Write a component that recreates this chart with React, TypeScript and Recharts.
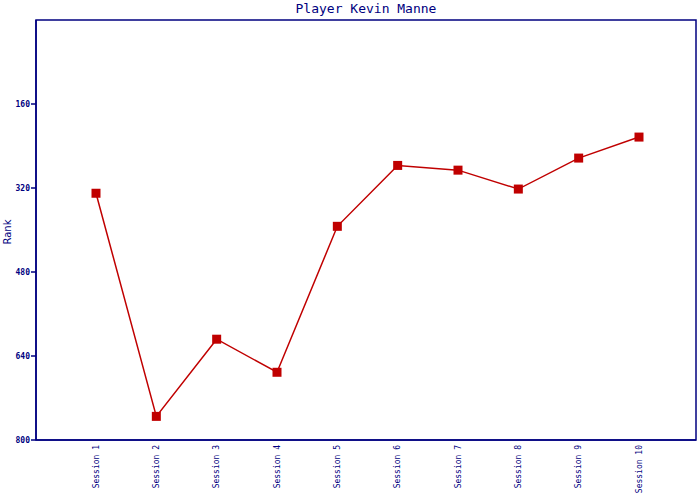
import React from "react";
import { LineChart, Line, XAxis, YAxis, ReferenceArea } from "recharts";

const sessions = ["Session 1", "Session 2", "Session 3", "Session 4", "Session 5", "Session 6", "Session 7", "Session 8", "Session 9", "Session 10"];
const ranks = [330, 755, 608, 671, 393, 277, 286, 322, 263, 223];
const yTicks = [160, 320, 480, 640, 800];
const title = "Player Kevin Manne";
const yLabel = "Rank";

const data = sessions.map((s, i) => ({ session: s, rank: ranks[i] }));

const NAVY = "#000080";
const RED = "#C00000";
const MONO = "'DejaVu Sans Mono', 'Liberation Mono', monospace";

const XTick = (props: any) => {
  const { x, y, payload } = props;
  return (
    <text
      transform={`translate(${x},${y}) rotate(-90)`}
      textAnchor="end"
      dy="0.32em"
      fontSize={8}
      fontFamily={MONO}
      fill={NAVY}
    >
      {payload.value}
    </text>
  );
};

const Square = (props: any) => {
  const { cx, cy } = props;
  if (cx == null || cy == null) return null;
  return <rect x={cx - 4.5} y={cy - 4.5} width={9} height={9} fill={RED} stroke="none" />;
};

export default function App() {
  return (
    <div style={{ position: "absolute", left: 0, top: 0, width: 700, height: 500, background: "#fff" }}>
      <LineChart width={700} height={500} data={data} margin={{ top: 20, right: 4, left: 0, bottom: 0 }}>
        <text x={366} y={13} textAnchor="middle" fontSize={13} fontFamily={MONO} fill={NAVY}>
          {title}
        </text>
        <text
          transform="translate(11,232) rotate(-90)"
          textAnchor="middle"
          fontSize={10}
          fontFamily="'DejaVu Sans', sans-serif"
          fill={NAVY}
        >
          {yLabel}
        </text>
        <XAxis
          dataKey="session"
          padding={{ left: 60, right: 57 }}
          height={60}
          tickLine={false}
          tickSize={0}
          tickMargin={5}
          axisLine={{ stroke: NAVY, strokeWidth: 1.5 }}
          tick={<XTick />}
          interval={0}
        />
        <YAxis
          type="number"
          domain={[0, 800]}
          reversed
          ticks={yTicks}
          width={36}
          tickSize={5}
          tickMargin={1}
          axisLine={{ stroke: NAVY, strokeWidth: 1.5 }}
          tickLine={{ stroke: NAVY, strokeWidth: 1.5 }}
          tick={{ fontSize: 8, fontFamily: MONO, fontWeight: "bold", fill: NAVY }}
          interval={0}
        />
        <ReferenceArea
          x1={sessions[0]}
          x2={sessions[sessions.length - 1]}
          y1={0}
          y2={800}
          fill="none"
          stroke="none"
        />
        <Line
          type="linear"
          dataKey="rank"
          stroke={RED}
          strokeWidth={1.5}
          dot={<Square />}
          activeDot={false}
          isAnimationActive={false}
        />
      </LineChart>
      <svg
        width={700}
        height={500}
        style={{ position: "absolute", left: 0, top: 0, pointerEvents: "none" }}
      >
        <rect x={36} y={20} width={660} height={420} fill="none" stroke={NAVY} strokeWidth={1.5} />
      </svg>
    </div>
  );
}
